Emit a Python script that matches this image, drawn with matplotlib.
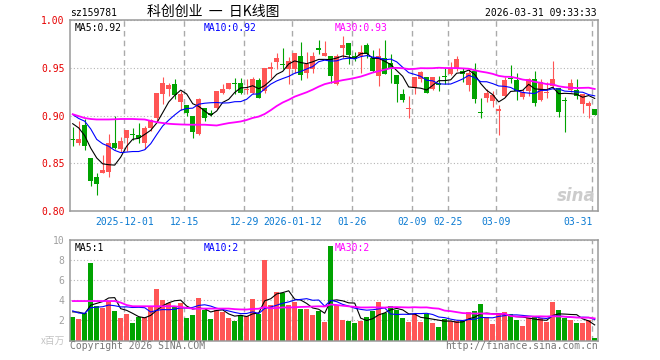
import matplotlib
matplotlib.use("Agg")
import matplotlib.pyplot as plt
import numpy as np
import pandas as pd

plt.rcParams["font.family"] = ["DejaVu Sans Mono"]
plt.rcParams["font.size"] = 7

RED = "#ff5555"
GREEN = "#00a300"
GRID = "#aaaaaa"
FRAME = "#9a9a9a"
BLUE_TXT = "#0a7ad2"

# daily bars, 2025-11-18 .. 2026-03-31
opens = [0.8745, 0.8715, 0.8899, 0.8556, 0.8361, 0.8403, 0.8406, 0.8712, 0.8649, 0.8760,
         0.8802, 0.8795, 0.8712, 0.8865, 0.8972, 0.9229, 0.9274, 0.9326, 0.9142, 0.9108,
         0.8990, 0.8806, 0.9083, 0.9024, 0.9083, 0.9240, 0.9281, 0.9337, 0.9340, 0.9270,
         0.9240, 0.9368, 0.9257, 0.9483, 0.9559, 0.9535, 0.9483, 0.9483, 0.9628, 0.9448,
         0.9490, 0.9698, 0.9628, 0.9622, 0.9333, 0.9708, 0.9757, 0.9622, 0.9628, 0.9743,
         0.9604, 0.9413, 0.9604, 0.9552, 0.9420, 0.9222, 0.9068, 0.9292, 0.9385, 0.9406,
         0.9281, 0.9344, 0.9413, 0.9431, 0.9500, 0.9465, 0.9319, 0.9465, 0.9027, 0.9188,
         0.9153, 0.9049, 0.9205, 0.9382, 0.9372, 0.9194, 0.9257, 0.9385, 0.9160, 0.9236,
         0.9309, 0.9292, 0.9156, 0.9267, 0.9264, 0.9118, 0.9100, 0.9066]
highs = [0.8875, 0.8944, 0.8962, 0.8556, 0.8399, 0.8587, 0.8806, 0.8997, 0.8778, 0.8851,
         0.8868, 0.8920, 0.8885, 0.8962, 0.9233, 0.9403, 0.9340, 0.9385, 0.9257, 0.9115,
         0.8990, 0.9188, 0.9083, 0.9060, 0.9257, 0.9326, 0.9337, 0.9396, 0.9390, 0.9385,
         0.9406, 0.9396, 0.9493, 0.9559, 0.9656, 0.9712, 0.9611, 0.9656, 0.9767, 0.9663,
         0.9663, 0.9795, 0.9778, 0.9622, 0.9639, 0.9830, 0.9760, 0.9663, 0.9733, 0.9760,
         0.9684, 0.9710, 0.9790, 0.9639, 0.9420, 0.9274, 0.9205, 0.9403, 0.9470, 0.9406,
         0.9406, 0.9413, 0.9500, 0.9559, 0.9628, 0.9500, 0.9483, 0.9552, 0.9188, 0.9281,
         0.9257, 0.9108, 0.9406, 0.9524, 0.9448, 0.9274, 0.9396, 0.9465, 0.9378, 0.9351,
         0.9569, 0.9292, 0.9198, 0.9385, 0.9385, 0.9222, 0.9153, 0.9066]
lows = [0.8677, 0.8691, 0.8642, 0.8267, 0.8163, 0.8396, 0.8354, 0.8649, 0.8615, 0.8632,
        0.8747, 0.8712, 0.8649, 0.8833, 0.8934, 0.9125, 0.9205, 0.9177, 0.9056, 0.8997,
        0.8760, 0.8799, 0.8944, 0.8990, 0.9073, 0.9229, 0.9274, 0.9222, 0.9230, 0.9229,
        0.9222, 0.9180, 0.9240, 0.9389, 0.9483, 0.9483, 0.9326, 0.9448, 0.9372, 0.9396,
        0.9448, 0.9639, 0.9620, 0.9344, 0.9320, 0.9604, 0.9535, 0.9570, 0.9448, 0.9604,
        0.9455, 0.9309, 0.9430, 0.9344, 0.9142, 0.9142, 0.8969, 0.9222, 0.9350, 0.9233,
        0.9267, 0.9257, 0.9326, 0.9420, 0.9465, 0.9351, 0.9257, 0.9135, 0.8979, 0.9142,
        0.9094, 0.8799, 0.9198, 0.9337, 0.9163, 0.9177, 0.9205, 0.9100, 0.9153, 0.9188,
        0.9281, 0.8986, 0.8830, 0.9247, 0.9177, 0.9024, 0.8979, 0.9003]
closes = [0.8740, 0.8757, 0.8684, 0.8319, 0.8278, 0.8431, 0.8712, 0.8663, 0.8736, 0.8851,
          0.8795, 0.8760, 0.8868, 0.8951, 0.9233, 0.9337, 0.9316, 0.9212, 0.9229, 0.9031,
          0.8830, 0.9177, 0.8969, 0.9003, 0.9257, 0.9281, 0.9337, 0.9330, 0.9240, 0.9274,
          0.9378, 0.9180, 0.9493, 0.9510, 0.9597, 0.9530, 0.9566, 0.9656, 0.9424, 0.9538,
          0.9628, 0.9691, 0.9656, 0.9413, 0.9622, 0.9736, 0.9630, 0.9587, 0.9663, 0.9649,
          0.9465, 0.9628, 0.9437, 0.9490, 0.9333, 0.9163, 0.9072, 0.9403, 0.9458, 0.9240,
          0.9406, 0.9316, 0.9406, 0.9500, 0.9587, 0.9437, 0.9448, 0.9177, 0.9024, 0.9233,
          0.9212, 0.9066, 0.9372, 0.9378, 0.9257, 0.9247, 0.9378, 0.9135, 0.9351, 0.9240,
          0.9378, 0.9038, 0.9153, 0.9337, 0.9205, 0.9222, 0.9128, 0.9003]
# volume, millions
volumes = [2.37, 2.13, 2.77, 7.73, 3.47, 3.27, 3.93, 2.93, 2.23, 2.63,
           1.77, 2.30, 2.37, 3.43, 5.17, 4.03, 3.77, 3.37, 3.73, 2.23,
           2.53, 4.27, 3.03, 2.13, 3.00, 2.80, 2.27, 1.93, 2.53, 2.40,
           4.13, 2.67, 8.03, 3.53, 4.83, 4.77, 3.57, 3.83, 3.13, 3.13,
           2.53, 2.93, 1.83, 9.43, 3.50, 2.03, 1.93, 1.73, 1.93, 2.33,
           2.93, 3.83, 2.73, 3.43, 3.03, 2.23, 1.83, 2.60, 1.83, 2.63,
           1.73, 1.33, 2.10, 1.93, 1.97, 1.93, 2.83, 2.93, 3.63, 2.30,
           1.63, 2.73, 2.83, 2.63, 2.03, 1.43, 2.23, 2.33, 2.23, 1.83,
           3.83, 3.03, 2.23, 2.03, 1.73, 1.73, 2.03, 0.23]

# sessions before the window (only feed the moving averages), estimated
prior_closes = [0.9357, 0.9284, 0.8619, 0.8428, 0.8431, 0.8712, 0.8603, 0.8646, 0.8851, 0.8795,
                0.8850, 0.8928, 0.9401, 0.9623, 0.9607, 0.9556, 0.9332, 0.9319, 0.9091, 0.8860,
                0.9177, 0.8969, 0.9123, 0.9377, 0.8891, 0.8977, 0.9090, 0.8970, 0.8794]
prior_volumes = [2.13, 2.77, 7.73, 3.47, 3.27, 3.93, 2.93, 6.73, 10.13, 5.37,
                 2.30, 2.37, 3.43, 5.17, 4.03, 3.77, 3.37, 6.13, 4.63, 4.63,
                 4.27, 3.03, 2.13, 3.00, 2.80, 2.27, 3.60, 3.43, 2.58]

tick_idx = [9, 19, 29, 37, 47, 57, 63, 71, 87]
tick_labels = ["2025-12-01", "12-15", "12-29", "2026-01-12", "01-26",
               "02-09", "02-25", "03-09", "03-31"]
ma_periods = [5, 10, 30]
ma_colors = ["black", "#0000ff", "#ff00ff"]
ma_widths = [0.8, 0.8, 1.3]

n = len(closes)
x = np.arange(n)
o, h, l, c = map(np.array, (opens, highs, lows, closes))
up = c >= o
colors = np.where(up, RED, GREEN)

c_all = pd.Series(prior_closes + closes)
v_all = pd.Series(prior_volumes + volumes)
price_ma = [c_all.rolling(p).mean().values[-n:] for p in ma_periods]
vol_ma = [v_all.rolling(p).mean().values[-n:] for p in ma_periods]

W, H = 660, 360
fig = plt.figure(figsize=(W / 100, H / 100), dpi=100)
fig.patch.set_facecolor("white")
ax = fig.add_axes([70 / W, 149 / H, 528 / W, 191 / H])
axv = fig.add_axes([70 / W, 19.5 / H, 528 / W, 100.5 / H])

# candles
ax.vlines(x, l, h, colors=colors, linewidth=0.8, zorder=3)
body_h = np.maximum(np.abs(c - o), 0.0012)
ax.bar(x, body_h, bottom=np.minimum(o, c), width=0.82, color=colors,
       linewidth=0, zorder=3)
for ma, col, lw in zip(price_ma, ma_colors, ma_widths):
    ax.plot(x, ma, color=col, linewidth=lw, zorder=4)

# volume
axv.bar(x, volumes, width=0.82, color=colors, linewidth=0, zorder=3)
for ma, col, lw in zip(vol_ma, ma_colors, ma_widths):
    axv.plot(x, ma, color=col, linewidth=lw, zorder=4)

grid_x = np.array(tick_idx) - 0.37
for a in (ax, axv):
    a.set_xlim(-0.45, n - 0.45)
    a.set_axisbelow(True)
    a.set_xticks(grid_x)
    a.grid(axis="x", color=GRID, linestyle=(0, (4, 3)), linewidth=1.0)
    a.grid(axis="y", color="#b4b4b4", linestyle=(0, (1, 2)), linewidth=0.8)
    for s in a.spines.values():
        s.set_color(FRAME)
        s.set_linewidth(1.1)
        s.set_zorder(5)

ax.set_ylim(0.80, 1.00)
yt = [0.80, 0.85, 0.90, 0.95, 1.00]
ax.set_yticks(yt)
ax.set_yticklabels([f"{v:.2f}" for v in yt])
ax.tick_params(axis="y", length=0, pad=4, labelcolor="#e60000", labelsize=7)
ax.set_xticklabels(tick_labels)
ax.tick_params(axis="x", length=0, pad=4, labelcolor=BLUE_TXT, labelsize=7)
ax.get_xticklabels()[-1].set_ha("right")

axv.set_ylim(0, 10)
vt = [2, 4, 6, 8, 10]
axv.set_yticks(vt)
axv.set_yticklabels([str(v) for v in vt])
axv.tick_params(axis="y", length=0, pad=4, labelcolor="#a0a0a0", labelsize=7)
axv.set_xticklabels([])
axv.tick_params(axis="x", length=0)

# legends
leg_x = [0.0095, 0.254, 0.502]
for p, ma, col, lx in zip(ma_periods, price_ma, ma_colors, leg_x):
    ax.text(lx, 0.985, f"MA{p}:{ma[-1]:.2f}", transform=ax.transAxes,
            color=col, va="top", ha="left", fontsize=7, zorder=6)
for p, ma, col, lx in zip(ma_periods, vol_ma, ma_colors, leg_x):
    axv.text(lx, 0.975, f"MA{p}:{int(ma[-1])}", transform=axv.transAxes,
             color=col, va="top", ha="left", fontsize=7, zorder=6)

# watermark
ax.text(0.995, 0.03, "sina", transform=ax.transAxes, ha="right", va="bottom",
        fontsize=12, fontweight="bold", fontstyle="italic", color="#cccccc",
        family="DejaVu Sans", zorder=2)

# header / footer
fig.text(70 / W, 1 - 13 / H, "sz159781", ha="left", va="center", fontsize=7)
fig.text(213 / W, 1 - 12 / H, "科创创业  一  日K线图", ha="center", va="center",
         fontsize=10, family=["Noto Sans CJK SC", "DejaVu Sans"])
fig.text(597 / W, 1 - 13 / H, "2026-03-31 09:33:33", ha="right", va="center",
         fontsize=7)
fig.text(65 / W, 1 - 341 / H, "x百万", ha="right", va="center", fontsize=7,
         color="#c4c4c4", family=["Noto Sans CJK SC", "DejaVu Sans"])
fig.text(70 / W, 1 - 346 / H, "Copyright 2026 SINA.COM", ha="left", va="center",
         fontsize=7, color="#777777")
fig.text(598 / W, 1 - 346 / H, "http://finance.sina.com.cn", ha="right",
         va="center", fontsize=7, color="#777777")

fig.savefig("out.png", dpi=100, facecolor="white")
